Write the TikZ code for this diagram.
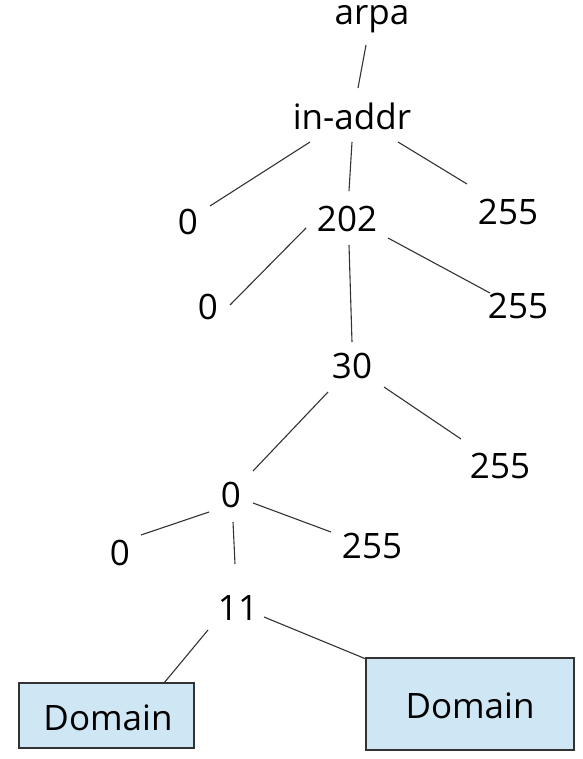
\documentclass[tikz,border=0pt]{standalone}
\usepackage{fontspec}
\setmainfont{Open Sans}
\definecolor{boxfill}{HTML}{CFE7F5}
\definecolor{edge}{HTML}{333333}
\begin{document}
\begin{tikzpicture}[x=1pt,y=-1pt,
  lbl/.style={anchor=base,inner sep=0pt,font=\fontsize{35}{38}\selectfont},
  conn/.style={draw=edge,line width=1.1pt},
  dombox/.style={draw=edge,fill=boxfill,line width=1.1pt}]
\useasboundingbox (0,0) rectangle (582,759);
% boxes
\path[dombox] (19,683) rectangle (194,748);
\path[dombox] (366,658) rectangle (574,750);
% labels
\node[lbl] (arpa) at (372,25) {arpa};
\node[lbl] (inaddr) at (352,130) {in-addr};
\node[lbl] (z1) at (188,234) {0};
\node[lbl] (n202) at (347,231) {202};
\node[lbl] (f1) at (508,224) {255};
\node[lbl] (z2) at (208,319) {0};
\node[lbl] (f2) at (518,318) {255};
\node[lbl] (n30) at (352,378) {30};
\node[lbl] (f3) at (500,478) {255};
\node[lbl] (z3) at (231,507) {0};
\node[lbl] (z4) at (120,565) {0};
\node[lbl] (f4) at (372,558) {255};
\node[lbl] (n11) at (238,620) {11};
\node[lbl] (d1) at (108,730) {Domain};
\node[lbl] (d2) at (470,718) {Domain};
% connector ends
\coordinate (a1) at (366,45);   \coordinate (a2) at (358,88);
\coordinate (b1) at (310,142);  \coordinate (b2) at (210,206);
\coordinate (c1) at (352,142);  \coordinate (c2) at (349,191);
\coordinate (e1) at (398,142);  \coordinate (e2) at (467,184);
\coordinate (g1) at (306,228);  \coordinate (g2) at (230,305);
\coordinate (h1) at (349,245);  \coordinate (h2) at (352,342);
\coordinate (k1) at (388,238);  \coordinate (k2) at (490,293);
\coordinate (m1) at (328,392);  \coordinate (m2) at (253,471);
\coordinate (p1) at (384,387);  \coordinate (p2) at (461,439);
\coordinate (q1) at (209,512);  \coordinate (q2) at (141,535);
\coordinate (r1) at (233,522);  \coordinate (r2) at (235,564);
\coordinate (s1) at (253,503);  \coordinate (s2) at (331,532);
\coordinate (t1) at (208,630);  \coordinate (t2) at (164,683);
\coordinate (u1) at (264,617);  \coordinate (u2) at (366,659);
\draw[conn] (a1) -- (a2);
\draw[conn] (b1) -- (b2);
\draw[conn] (c1) -- (c2);
\draw[conn] (e1) -- (e2);
\draw[conn] (g1) -- (g2);
\draw[conn] (h1) -- (h2);
\draw[conn] (k1) -- (k2);
\draw[conn] (m1) -- (m2);
\draw[conn] (p1) -- (p2);
\draw[conn] (q1) -- (q2);
\draw[conn] (r1) -- (r2);
\draw[conn] (s1) -- (s2);
\draw[conn] (t1) -- (t2);
\draw[conn] (u1) -- (u2);
\end{tikzpicture}
\end{document}
